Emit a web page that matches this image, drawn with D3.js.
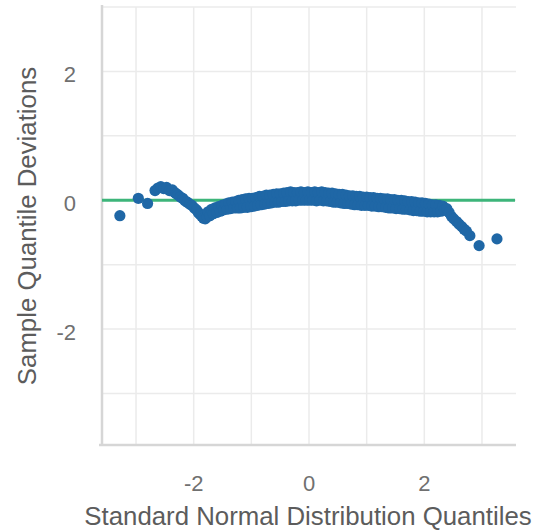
<!DOCTYPE html>
<html>
<head>
<meta charset="utf-8">
<script src="https://cdn.jsdelivr.net/npm/d3@7"></script>
<style>
  body { margin: 0; background: #fff; }
  svg { display: block; font-family: "Liberation Sans", Arial, sans-serif; }
</style>
</head>
<body>
<div id="root"></div>
<script>
// theoretical quantiles (x) and detrended sample deviations (y)
const tailLeft = [
  [-3.28, -0.24], [-2.96, 0.03], [-2.80, -0.05], [-2.67, 0.15], [-2.62, 0.19],
  [-2.57, 0.21], [-2.52, 0.18], [-2.47, 0.20], [-2.42, 0.15], [-2.37, 0.16],
  [-2.33, 0.12], [-2.30, 0.10]
]
const dipLeft = [
  [-2.27, 0.08], [-2.23, 0.05], [-2.19, 0.03], [-2.15, -0.01], [-2.11, -0.03],
  [-2.07, -0.06], [-2.03, -0.08], [-1.99, -0.12], [-1.95, -0.15], [-1.92, -0.19],
  [-1.89, -0.22], [-1.86, -0.25], [-1.83, -0.28], [-1.80, -0.29], [-1.77, -0.26],
  [-1.75, -0.18], [-1.72, -0.24], [-1.69, -0.14], [-1.66, -0.21], [-1.63, -0.12],
  [-1.60, -0.19], [-1.57, -0.10], [-1.54, -0.17], [-1.51, -0.08], [-1.48, -0.15],
  [-1.45, -0.06], [-1.42, -0.14], [-1.39, -0.04], [-1.36, -0.13], [-1.33, -0.03],
  [-1.30, -0.12], [-1.27, -0.02], [-1.24, -0.12]
]
const body = [
  [-1.22, 0.00], [-1.19, -0.12], [-1.16, 0.01], [-1.13, -0.11], [-1.10, 0.02],
  [-1.07, -0.11], [-1.04, 0.03], [-1.01, -0.10], [-0.98, 0.03], [-0.95, -0.09],
  [-0.92, 0.04], [-0.89, -0.08], [-0.86, 0.06], [-0.83, -0.07], [-0.80, 0.06],
  [-0.77, -0.06], [-0.74, 0.08], [-0.71, -0.05], [-0.68, 0.08], [-0.65, -0.04],
  [-0.62, 0.09], [-0.59, -0.03], [-0.56, 0.10], [-0.53, -0.03], [-0.50, 0.10],
  [-0.47, -0.02], [-0.44, 0.11], [-0.41, -0.02], [-0.38, 0.12], [-0.35, -0.01],
  [-0.32, 0.13], [-0.29, -0.01], [-0.26, 0.12], [-0.23, -0.01], [-0.20, 0.12],
  [-0.17, 0.00], [-0.14, 0.13], [-0.11, 0.00], [-0.08, 0.12], [-0.05, 0.00],
  [-0.02, 0.13], [0.01, 0.00], [0.04, 0.12], [0.07, 0.00], [0.10, 0.13],
  [0.13, -0.01], [0.16, 0.12], [0.19, 0.00], [0.22, 0.13], [0.25, -0.01],
  [0.28, 0.12], [0.31, -0.01], [0.34, 0.11], [0.37, -0.02], [0.40, 0.11],
  [0.43, -0.03], [0.46, 0.10], [0.49, -0.03], [0.52, 0.09], [0.55, -0.04],
  [0.58, 0.09], [0.61, -0.05], [0.64, 0.08], [0.67, -0.05], [0.70, 0.07],
  [0.73, -0.06], [0.76, 0.07], [0.79, -0.07], [0.82, 0.06], [0.85, -0.07],
  [0.88, 0.06], [0.91, -0.08], [0.94, 0.05], [0.97, -0.08], [1.00, 0.05],
  [1.03, -0.08], [1.06, 0.04], [1.09, -0.09], [1.12, 0.04], [1.15, -0.09],
  [1.18, 0.03], [1.21, -0.10], [1.24, 0.03], [1.27, -0.10], [1.30, 0.02],
  [1.33, -0.11], [1.36, 0.02], [1.39, -0.12], [1.42, 0.01], [1.45, -0.12],
  [1.48, 0.01], [1.51, -0.13], [1.54, 0.00], [1.57, -0.13], [1.60, 0.00],
  [1.63, -0.14], [1.66, -0.01], [1.69, -0.14], [1.72, -0.02], [1.75, -0.15],
  [1.78, -0.02], [1.81, -0.16], [1.84, -0.03], [1.87, -0.16], [1.90, -0.04],
  [1.93, -0.17], [1.96, -0.04], [1.99, -0.17], [2.02, -0.05], [2.05, -0.18],
  [2.08, -0.06], [2.11, -0.18], [2.14, -0.07], [2.17, -0.18], [2.20, -0.07],
  [2.23, -0.18], [2.26, -0.08], [2.29, -0.17], [2.32, -0.09], [2.35, -0.15]
]
const tailRight = [
  [2.39, -0.13], [2.43, -0.19], [2.47, -0.25], [2.51, -0.29], [2.56, -0.33],
  [2.60, -0.37], [2.65, -0.41], [2.69, -0.45], [2.73, -0.48], [2.79, -0.55],
  [2.95, -0.705], [3.26, -0.60]
]
const xTicks = [-3, -2, -1, 0, 1, 2, 3]
const yTicks = [-3, -2, -1, 0, 1, 2, 3]
const xLabels = [-2, 0, 2]
const yLabels = [-2, 0, 2]

const points = tailLeft.concat(dipLeft, body, tailRight)

const width = 537
const height = 530
const margin = { top: 7, right: 21, bottom: 85, left: 102 }

const svg = d3.select("#root").append("svg")
  .attr("width", width)
  .attr("height", height)

const x = d3.scaleLinear().domain([-3.59, 3.59]).range([margin.left, width - margin.right])
const y = d3.scaleLinear().domain([-3.8, 3]).range([height - margin.bottom, margin.top])

// grid
svg.append("g").selectAll("line").data(xTicks).join("line")
  .attr("x1", d => x(d)).attr("x2", d => x(d))
  .attr("y1", y(3)).attr("y2", y(-3.8))
  .attr("stroke", "#ebebeb").attr("stroke-width", 1.5)
svg.append("g").selectAll("line").data(yTicks).join("line")
  .attr("x1", x(-3.59)).attr("x2", x(3.59))
  .attr("y1", d => y(d)).attr("y2", d => y(d))
  .attr("stroke", "#ebebeb").attr("stroke-width", 1.5)

// axis lines
svg.append("line")
  .attr("x1", x(-3.59)).attr("x2", x(-3.59))
  .attr("y1", y(3) - 2).attr("y2", y(-3.8))
  .attr("stroke", "#d6d6d6").attr("stroke-width", 2.5)
svg.append("line")
  .attr("x1", x(-3.59) - 3).attr("x2", x(3.59))
  .attr("y1", y(-3.8)).attr("y2", y(-3.8))
  .attr("stroke", "#d6d6d6").attr("stroke-width", 2.5)

// reference line at zero
svg.append("line")
  .attr("x1", x(-3.59)).attr("x2", x(3.59) - 1)
  .attr("y1", y(0)).attr("y2", y(0))
  .attr("stroke", "#3db57a").attr("stroke-width", 3)

svg.append("g").selectAll("circle").data(points).join("circle")
  .attr("cx", d => x(d[0]))
  .attr("cy", d => y(d[1]))
  .attr("r", 5.6)
  .attr("fill", "#1f67a6")

// tick labels
svg.append("g").selectAll("text").data(xLabels).join("text")
  .attr("x", d => x(d))
  .attr("y", 491)
  .attr("text-anchor", "middle")
  .attr("font-size", 22)
  .attr("fill", "#707070")
  .text(d => d)
svg.append("g").selectAll("text").data(yLabels).join("text")
  .attr("x", 76)
  .attr("y", d => y(d) + 11)
  .attr("text-anchor", "end")
  .attr("font-size", 22)
  .attr("fill", "#707070")
  .text(d => d)

// titles
svg.append("text")
  .attr("x", x(0) - 1)
  .attr("y", 524.5)
  .attr("text-anchor", "middle")
  .attr("font-size", 25.8)
  .attr("fill", "#5c5c5c")
  .text("Standard Normal Distribution Quantiles")
svg.append("text")
  .attr("transform", `translate(36,${(y(3) + y(-3.8)) / 2}) rotate(-90)`)
  .attr("text-anchor", "middle")
  .attr("font-size", 25.8)
  .attr("fill", "#5c5c5c")
  .text("Sample Quantile Deviations")
</script>
</body>
</html>
